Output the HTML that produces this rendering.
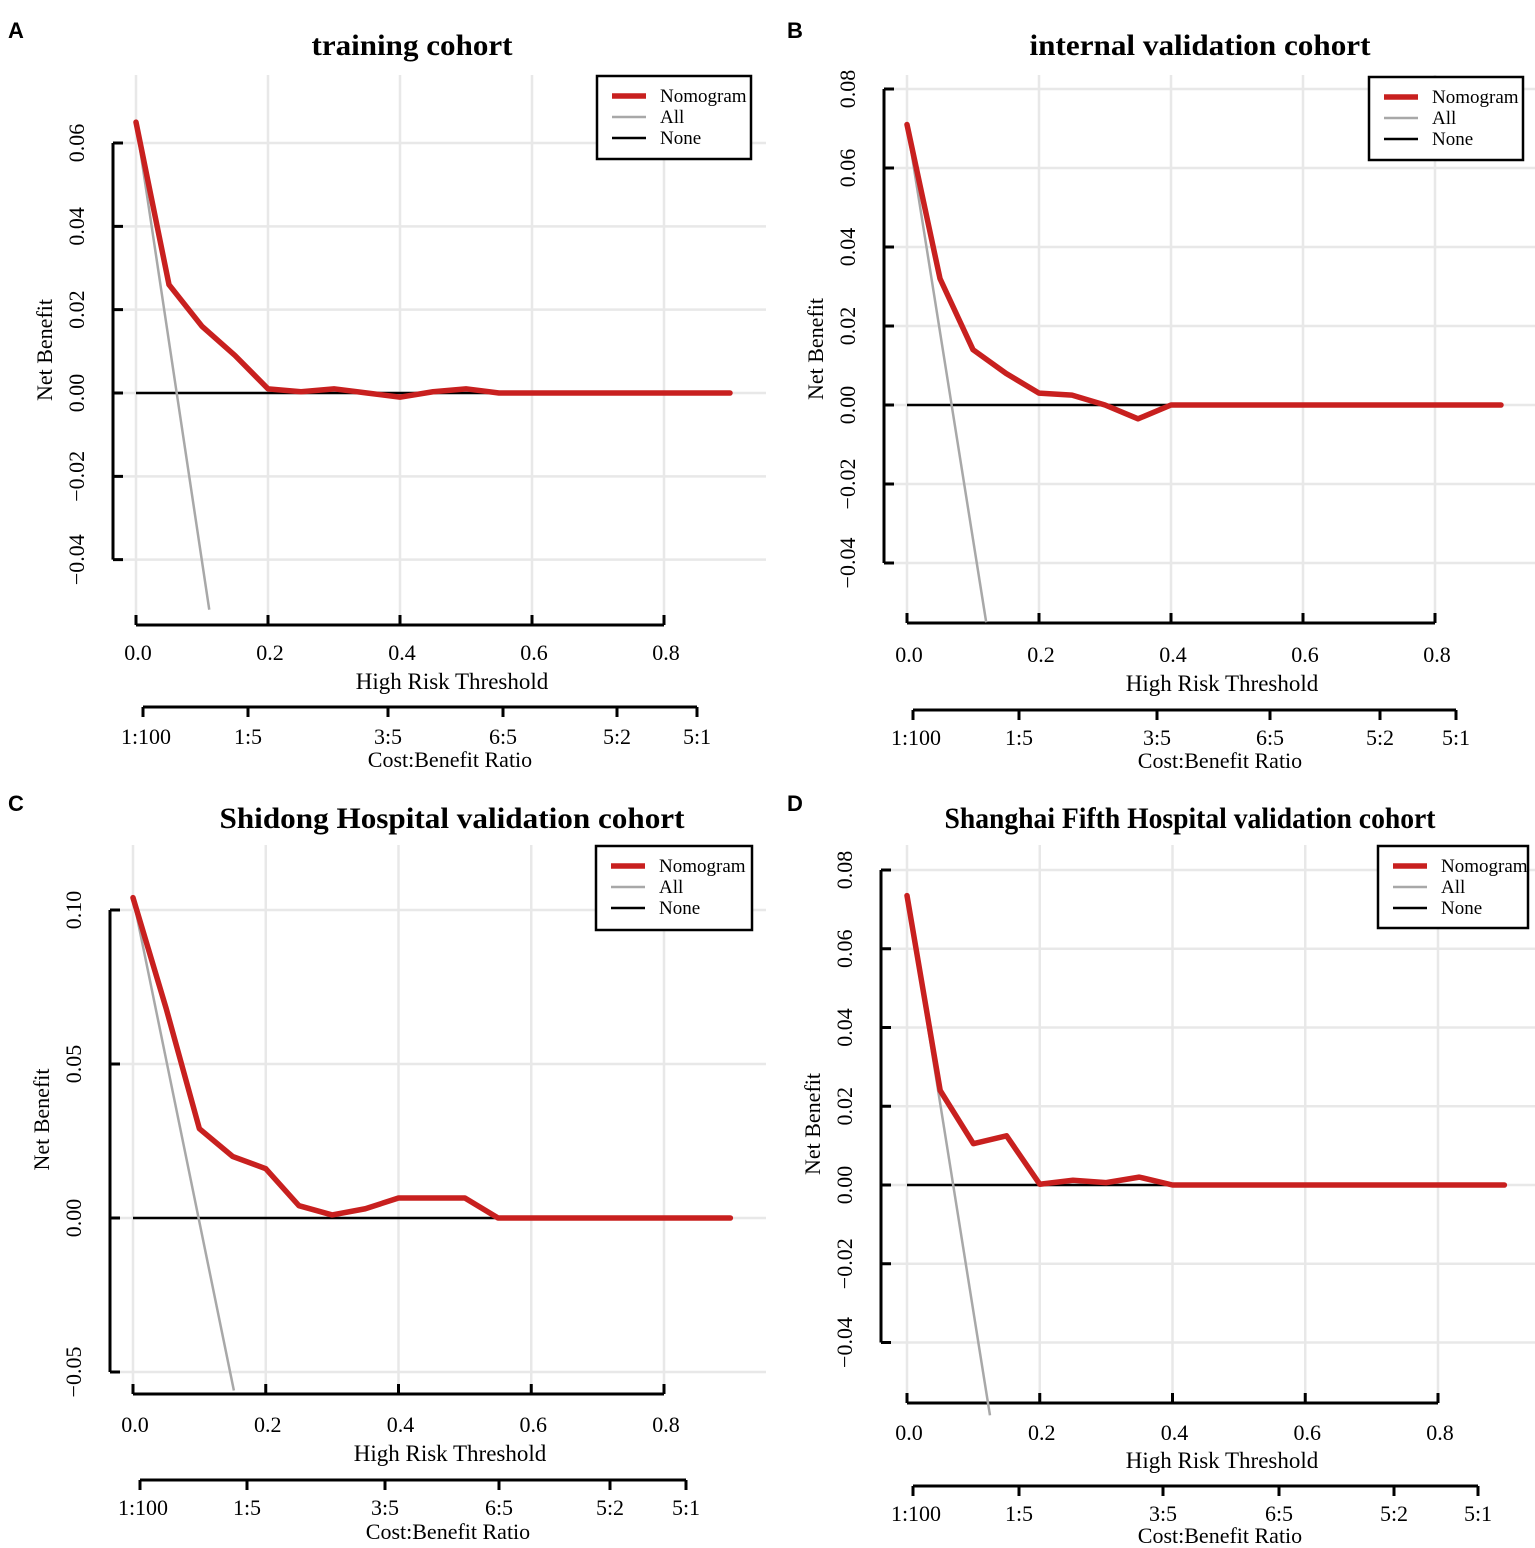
<!DOCTYPE html>
<html><head><meta charset="utf-8"><style>
html,body{margin:0;padding:0;background:#fff;}
svg{display:block;}
text{font-family:"Liberation Serif",serif;fill:#000;}
.lt{font-family:"Liberation Sans",sans-serif;font-weight:bold;}
</style></head><body>
<svg id="fig" width="1535" height="1548" viewBox="0 0 1535 1548" xmlns="http://www.w3.org/2000/svg"></svg>
<script>
// ---- data ----
const thresholds = [0,0.05,0.1,0.15,0.2,0.25,0.3,0.35,0.4,0.45,0.5,0.55,0.6,0.65,0.7,0.75,0.8,0.85,0.9];
const nomogramA = [0.065,0.026,0.016,0.009,0.001,0.0003,0.001,0,-0.001,0.0003,0.001,0,0,0,0,0,0,0,0];
const nomogramB = [0.071,0.032,0.014,0.008,0.003,0.0025,0,-0.0035,0,0,0,0,0,0,0,0,0,0,0];
const nomogramC = [0.104,0.068,0.029,0.020,0.016,0.004,0.001,0.003,0.0065,0.0065,0.0065,0,0,0,0,0,0,0,0];
const nomogramD = [0.0735,0.024,0.0105,0.0125,0.0002,0.0012,0.0006,0.002,0,0,0,0,0,0,0,0,0,0,0];
const allX_A = [0,0.111], allY_A = [0.065,-0.052];
const allX_B = [0,0.12],  allY_B = [0.071,-0.055];
const allX_C = [0,0.152], allY_C = [0.104,-0.056];
const allX_D = [0,0.125], allY_D = [0.0735,-0.0585];
const xTicks = [0,0.2,0.4,0.6,0.8];
const xTickLabels = ["0.0","0.2","0.4","0.6","0.8"];
const ytA = [0.06,0.04,0.02,0,-0.02,-0.04], ylA = ["0.06","0.04","0.02","0.00","\u22120.02","\u22120.04"];
const ytB = [0.08,0.06,0.04,0.02,0,-0.02,-0.04], ylB = ["0.08","0.06","0.04","0.02","0.00","\u22120.02","\u22120.04"];
const ytC = [0.10,0.05,0,-0.05], ylC = ["0.10","0.05","0.00","\u22120.05"];
const costLabels = ["1:100","1:5","3:5","6:5","5:2","5:1"];
const titles = ["training cohort","internal validation cohort","Shidong Hospital validation cohort","Shanghai Fifth Hospital validation cohort"];

// ---- layout (pixel geometry per panel) ----
const panels = [
 {id:"a",letter:"A",title:titles[0],tcx:412,tw:201,ty:55,yAxX:113,y0:393,yRef:0.06,yRefPx:143,x0:136,x8:664,xAxY:625,gTop:75,gRight:766,
  nom:nomogramA,ax:allX_A,ay:allY_A,yt:ytA,yl:ylA,xlY:660,hrtX:452,hrtY:689,cY:707,cX:[143,248,388,503,617,697],clY:744,ctX:450,ctY:767,leg:[597,76,154,83]},
 {id:"b",letter:"B",title:titles[1],tcx:1200,tw:341,ty:55,yAxX:884,y0:405,yRef:0.08,yRefPx:89,x0:907,x8:1435,xAxY:623,gTop:75,gRight:1535,
  nom:nomogramB,ax:allX_B,ay:allY_B,yt:ytB,yl:ylB,xlY:662,hrtX:1222,hrtY:691,cY:710,cX:[913,1019,1157,1270,1380,1456],clY:745,ctX:1220,ctY:768,leg:[1369,77,154,83]},
 {id:"c",letter:"C",title:titles[2],tcx:452,tw:465,ty:828,yAxX:110,y0:1218,yRef:0.10,yRefPx:910,x0:133,x8:664,xAxY:1394,gTop:845,gRight:766,
  nom:nomogramC,ax:allX_C,ay:allY_C,yt:ytC,yl:ylC,xlY:1432,hrtX:450,hrtY:1461,cY:1480,cX:[140,247,385,499,610,686],clY:1515,ctX:448,ctY:1539,leg:[596,846,156,84]},
 {id:"d",letter:"D",title:titles[3],tcx:1190,tw:491,ty:828,yAxX:881,y0:1185,yRef:0.08,yRefPx:870,x0:907,x8:1438,xAxY:1403,gTop:845,gRight:1535,
  nom:nomogramD,ax:allX_D,ay:allY_D,yt:ytB,yl:ylB,xlY:1440,hrtX:1222,hrtY:1468,cY:1486,cX:[913,1019,1163,1279,1394,1478],clY:1521,ctX:1220,ctY:1543,leg:[1378,846,150,82]}
];

const NS="http://www.w3.org/2000/svg";
const svg=document.getElementById("fig");
function mk(tag,attrs,parent){const e=document.createElementNS(NS,tag);for(const k in attrs)e.setAttribute(k,attrs[k]);(parent||svg).appendChild(e);return e;}

panels.forEach(p=>{
  const g=mk("g",{});
  
  
  const sx=v=>p.x0+(p.x8-p.x0)*v/0.8;
  const sy=v=>p.y0+(p.yRefPx-p.y0)*v/p.yRef;
  const L=mk("text",{x:p.id==="a"||p.id==="c"?8:787,y:p.ty-17,"font-size":22,"class":"lt"},g);L.textContent=p.letter;
  
  
  const T=mk("text",{x:p.tcx,y:p.ty,"font-size":30,"font-weight":"bold","text-anchor":"middle",textLength:p.tw,lengthAdjust:"spacingAndGlyphs"},g);T.textContent=p.title;
  
  
  p.yt.forEach(v=>{const l=mk("line",{x1:p.yAxX+4,x2:p.gRight,y1:sy(v),y2:sy(v),stroke:"#e8e8e8","stroke-width":2.5},g);
    
    });
  xTicks.forEach(v=>{const l=mk("line",{x1:sx(v),x2:sx(v),y1:p.gTop,y2:p.xAxY,stroke:"#e8e8e8","stroke-width":2.5},g);
    
    });
  const yTop=sy(p.yt[0]),yBot=sy(p.yt[p.yt.length-1]);
  const ya=mk("path",{d:`M${p.yAxX},${yTop}V${yBot}`+p.yt.map(v=>`M${p.yAxX},${sy(v)}h10`).join(""),stroke:"#000","stroke-width":3,fill:"none"},g);
  
  
  p.yt.forEach((v,i)=>{const t=mk("text",{x:0,y:0,"font-size":22,"text-anchor":"middle",transform:`translate(${p.yAxX-29},${sy(v)}) rotate(-90)`},g);t.textContent=p.yl[i];
    
    });
  const yt=mk("text",{x:0,y:0,"font-size":22,"text-anchor":"middle",transform:`translate(${p.yAxX-61},${(p.gTop+p.xAxY)/2}) rotate(-90)`},g);yt.textContent="Net Benefit";
  
  
  const xa=mk("path",{d:`M${sx(0)},${p.xAxY}H${sx(0.8)}`+xTicks.map(v=>`M${sx(v)},${p.xAxY}v-10`).join(""),stroke:"#000","stroke-width":3,fill:"none"},g);
  
  
  xTicks.forEach((v,i)=>{const t=mk("text",{x:sx(v)+2,y:p.xlY,"font-size":22,"text-anchor":"middle"},g);t.textContent=xTickLabels[i];
    
    });
  const xt=mk("text",{x:p.hrtX,y:p.hrtY,"font-size":23,"text-anchor":"middle"},g);xt.textContent="High Risk Threshold";
  
  
  const ca=mk("path",{d:`M${p.cX[0]},${p.cY}H${p.cX[5]}`+p.cX.map(x=>`M${x},${p.cY}v10`).join(""),stroke:"#000","stroke-width":3,fill:"none"},g);
  
  
  p.cX.forEach((x,i)=>{const t=mk("text",{x:x+(i===0?3:0),y:p.clY,"font-size":22,"text-anchor":"middle"},g);t.textContent=costLabels[i];
    
    });
  const ct=mk("text",{x:p.ctX,y:p.ctY,"font-size":22,"text-anchor":"middle"},g);ct.textContent="Cost:Benefit Ratio";
  
  
  const none=mk("line",{x1:sx(0),x2:sx(thresholds[thresholds.length-1]),y1:sy(0),y2:sy(0),stroke:"#000","stroke-width":2.5},g);
  
  
  const all=mk("polyline",{points:p.ax.map((x,i)=>sx(x)+","+sy(p.ay[i])).join(" "),stroke:"#a8a8a8","stroke-width":2.5,fill:"none"},g);
  
  
  const nom=mk("polyline",{points:thresholds.map((x,i)=>sx(x)+","+sy(p.nom[i])).join(" "),stroke:"#c8201f","stroke-width":5.5,fill:"none","stroke-linejoin":"round","stroke-linecap":"round"},g);
  
  
  const [lx,ly,lw,lh]=p.leg;
  const lg=mk("g",{},g);
  
  
  mk("rect",{x:lx,y:ly,width:lw,height:lh,fill:"#fff",stroke:"#000","stroke-width":2.5},lg);
  [["Nomogram","#c8201f",5.5],["All","#a8a8a8",2.5],["None","#000",2.5]].forEach((e,i)=>{
    const yy=ly+20+i*21;
    const en=mk("g",{},lg);
    
    
    mk("line",{x1:lx+15,x2:lx+49,y1:yy,y2:yy,stroke:e[1],"stroke-width":e[2]},en);
    const t=mk("text",{x:lx+63,y:yy+6,"font-size":19},en);t.textContent=e[0];
  });
});
</script>
</body></html>
